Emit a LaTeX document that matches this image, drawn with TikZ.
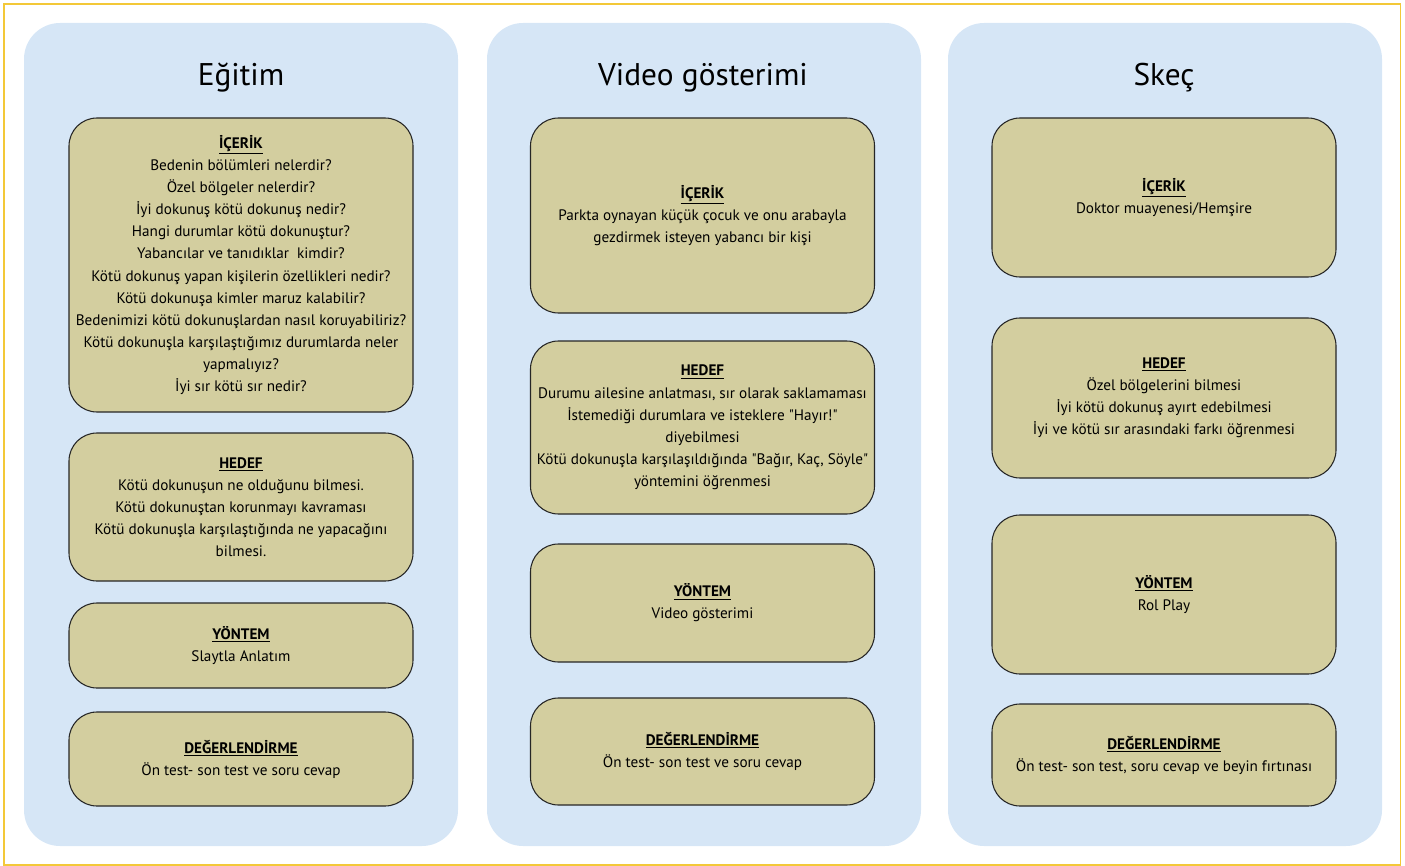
\documentclass[tikz,border=0pt]{standalone}
\usepackage{fontspec}
\setmainfont{PT Sans}
\usepackage{xcolor}
\usepackage{tikz}

\definecolor{framegold}{HTML}{F3C838}
\definecolor{panelblue}{HTML}{D6E6F6}
\definecolor{boxkhaki}{HTML}{D3CE9F}
\newcommand{\boxhead}[1]{\underline{\textbf{#1}}}

\begin{document}
\begin{tikzpicture}[x=0.75pt, y=-0.75pt,
    panel/.style={fill=panelblue, rounded corners=27pt, minimum width=325.5pt, minimum height=617.25pt, inner sep=0pt},
    paneltitle/.style={font=\fontsize{23.5}{28}\selectfont, text=black},
    box/.style={draw=black!85, line width=0.8pt, fill=boxkhaki, rounded corners=21pt, minimum width=258pt, inner sep=0pt, align=center, text=black, font=\fontsize{11.4}{16.6}\selectfont}]
    \useasboundingbox (0,0) rectangle (1405,866);
    \draw[framegold, line width=1.1pt] (4,4) rectangle (1400.5,864.8);

    % columns
    \node[panel] (egitim) at (241,434.5) {};
    \node[panel] (video) at (704,434.5) {};
    \node[panel] (skec) at (1165,434.5) {};
    \node[paneltitle] (egitimtitle) at (241,78) {Eğitim};
    \node[paneltitle] (videotitle) at (703,78) {Video gösterimi};
    \node[paneltitle] (skectitle) at (1164,78) {Skeç};

    % Eğitim
    \node[box, minimum height=220.5pt] (egitimicerik) at (241,265) {
        \boxhead{İÇERİK}\\
        Bedenin bölümleri nelerdir?\\
        Özel bölgeler nelerdir?\\
        İyi dokunuş kötü dokunuş nedir?\\
        Hangi durumlar kötü dokunuştur?\\
        Yabancılar ve tanıdıklar\ \ kimdir?\\
        Kötü dokunuş yapan kişilerin özellikleri nedir?\\
        Kötü dokunuşa kimler maruz kalabilir?\\
        Bedenimizi kötü dokunuşlardan nasıl koruyabiliriz?\\
        Kötü dokunuşla karşılaştığımız durumlarda neler\\
        yapmalıyız?\\
        İyi sır kötü sır nedir?
    };
    \node[box, minimum height=111pt] (egitimhedef) at (241,507) {
        \boxhead{HEDEF}\\
        Kötü dokunuşun ne olduğunu bilmesi.\\
        Kötü dokunuştan korunmayı kavraması\\
        Kötü dokunuşla karşılaştığında ne yapacağını\\
        bilmesi.
    };
    \node[box, minimum height=63.75pt] (egitimyontem) at (241,645.5) {
        \boxhead{YÖNTEM}\\
        Slaytla Anlatım
    };
    \node[box, minimum height=70.5pt] (egitimdeger) at (241,759) {
        \boxhead{DEĞERLENDİRME}\\
        Ön test- son test ve soru cevap
    };

    % Video gösterimi
    \node[box, minimum height=146.25pt] (videoicerik) at (702.5,215.5) {
        \boxhead{İÇERİK}\\
        Parkta oynayan küçük çocuk ve onu arabayla\\
        gezdirmek isteyen yabancı bir kişi
    };
    \node[box, minimum height=129.75pt] (videohedef) at (702.5,427.5) {
        \boxhead{HEDEF}\\
        Durumu ailesine anlatması, sır olarak saklamaması\\
        İstemediği durumlara ve isteklere \textquotedbl Hayır!\textquotedbl\\
        diyebilmesi\\
        Kötü dokunuşla karşılaşıldığında \textquotedbl Bağır, Kaç, Söyle\textquotedbl\\
        yöntemini öğrenmesi
    };
    \node[box, minimum height=88.5pt] (videoyontem) at (702.5,603) {
        \boxhead{YÖNTEM}\\
        Video gösterimi
    };
    \node[box, minimum height=80.25pt] (videodeger) at (702.5,751.5) {
        \boxhead{DEĞERLENDİRME}\\
        Ön test- son test ve soru cevap
    };

    % Skeç
    \node[box, minimum height=119.25pt] (skecicerik) at (1164,197.5) {
        \boxhead{İÇERİK}\\
        Doktor muayenesi/Hemşire
    };
    \node[box, minimum height=120pt] (skechedef) at (1164,398) {
        \boxhead{HEDEF}\\
        Özel bölgelerini bilmesi\\
        İyi kötü dokunuş ayırt edebilmesi\\
        İyi ve kötü sır arasındaki farkı öğrenmesi
    };
    \node[box, minimum height=119.25pt] (skecyontem) at (1164,594.5) {
        \boxhead{YÖNTEM}\\
        Rol Play
    };
    \node[box, minimum height=76.5pt] (skecdeger) at (1164,755) {
        \boxhead{DEĞERLENDİRME}\\
        Ön test- son test, soru cevap ve beyin fırtınası
    };
\end{tikzpicture}
\end{document}
